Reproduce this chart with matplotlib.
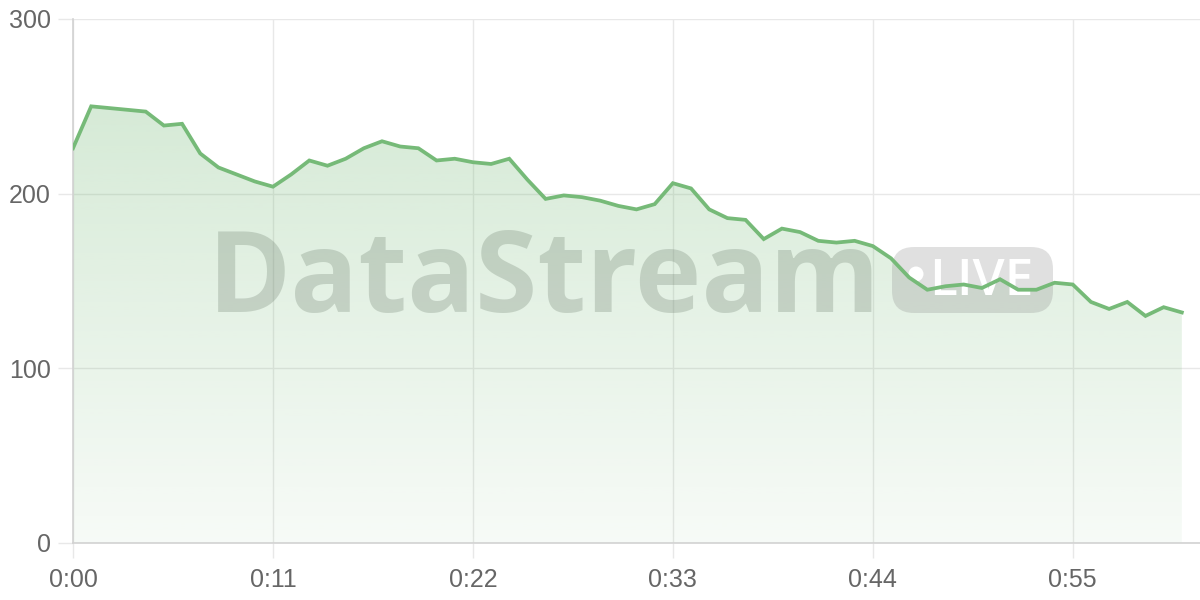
import numpy as np
import matplotlib
matplotlib.use("Agg")
import matplotlib.pyplot as plt
from matplotlib.patches import FancyBboxPatch, Circle, Polygon
from matplotlib.transforms import IdentityTransform

# one reading per second
seconds = list(range(62))
values = [226, 250, 249, 248, 247, 239, 240, 223, 215, 211,
          207, 204, 211, 219, 216, 220, 226, 230, 227, 226,
          219, 220, 218, 217, 220, 208, 197, 199, 198, 196,
          193, 191, 194, 206, 203, 191, 186, 185, 174, 180,
          178, 173, 172, 173, 170, 163, 152, 145, 147, 148,
          146, 151, 145, 145, 149, 148, 138, 134, 138, 130,
          135, 132]
x_ticks = [0, 11, 22, 33, 44, 55]
x_labels = ["0:00", "0:11", "0:22", "0:33", "0:44", "0:55"]
y_ticks = [0, 100, 200, 300]

line_color = "#76ba78"
grid_color = "#e8e8e8"
axis_color = "#d2d2d2"
label_color = "#666666"

plt.rcParams['font.family'] = ['Liberation Sans', 'DejaVu Sans']

fig = plt.figure(figsize=(12, 6), dpi=100)
ax = fig.add_axes([73 / 1200, 57 / 600, 1 - 73 / 1200, (543 - 19) / 600])
ax.set_xlim(0, 62)
ax.set_ylim(0, 300)

# gradient fill under the line
top = max(values)
grad = np.linspace(0.06, 0.30, 256)
rgba = np.zeros((256, 1, 4))
rgba[..., :3] = matplotlib.colors.to_rgb(line_color)
rgba[:, 0, 3] = grad
img = ax.imshow(rgba, extent=[0, seconds[-1], 0, top], origin="lower",
                aspect="auto", zorder=1, interpolation="bilinear")
poly = Polygon(list(zip(seconds, values)) + [(seconds[-1], 0), (0, 0)],
               closed=True, facecolor="none", edgecolor="none")
ax.add_patch(poly)
img.set_clip_path(poly)

ax.plot(seconds, values, color=line_color, lw=2.7, zorder=5,
        solid_joinstyle="miter")

ax.set_xticks(x_ticks)
ax.set_xticklabels(x_labels)
ax.set_yticks(y_ticks)
ax.grid(True, color=grid_color, lw=1, zorder=0)
ax.set_axisbelow(True)
for s in ["top", "right"]:
    ax.spines[s].set_visible(False)
for s in ["left", "bottom"]:
    ax.spines[s].set_color(axis_color)
    ax.spines[s].set_linewidth(1.2)
ax.tick_params(axis="both", length=11, width=1, color=grid_color,
               labelcolor=label_color, labelsize=18)
ax.tick_params(axis="y", pad=5)
ax.tick_params(axis="x", pad=7)

# watermark (pixel coords, origin bottom left), under the line
px = IdentityTransform()
ax.text(208, 600 - 312, "DataStream", transform=px,
        fontsize=81, family="Open Sans", weight="bold", color="#5a6b5a",
        alpha=0.24, va="baseline", ha="left", zorder=3, clip_on=False)
pill = FancyBboxPatch((892 + 22, 600 - 313 + 22), 161 - 44, 66 - 44,
                      boxstyle="round,pad=22", transform=px,
                      facecolor="#808080", edgecolor="none", alpha=0.24,
                      zorder=3, clip_on=False)
ax.add_artist(pill)
dot = Circle((916, 600 - 274), 7.5, transform=px,
             facecolor="white", edgecolor="none", zorder=4, clip_on=False)
ax.add_artist(dot)
ax.text(929, 600 - 295, "LIVE", transform=px, fontsize=37,
        family="Open Sans", weight="semibold", color="white",
        va="baseline", ha="left", zorder=4, clip_on=False)

fig.savefig("out.png", dpi=100)
